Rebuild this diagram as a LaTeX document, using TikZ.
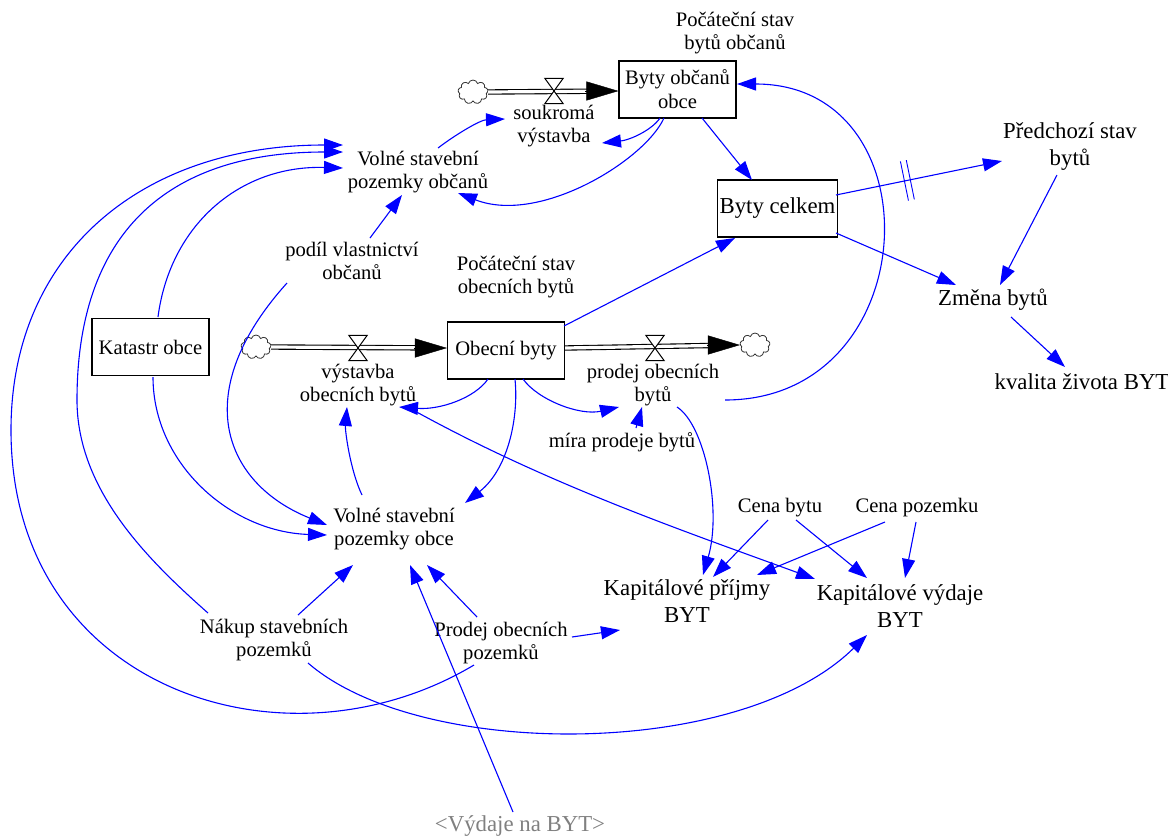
\documentclass[tikz,border=0pt]{standalone}
\usepackage{fontspec}
\setmainfont{Liberation Serif}
\usetikzlibrary{arrows.meta,calc,shapes.symbols,decorations.markings}
\definecolor{linkblue}{RGB}{0,0,255}
\definecolor{shadowgray}{RGB}{128,128,128}
\tikzset{
  lbl/.style={align=center, inner sep=2pt, font=\rmfamily\fontsize{20.6}{23}\selectfont},
  lblbig/.style={align=center, inner sep=2pt, font=\rmfamily\fontsize{22.8}{27}\selectfont},
  stock/.style={draw=black, line width=1.1pt, fill=white, minimum width=117pt, minimum height=57pt, align=center, inner sep=2pt, font=\rmfamily\fontsize{20.6}{24}\selectfont},
  link/.style={draw=linkblue, line width=1.1pt, -{Triangle[length=19pt,width=13pt]}},
  pipe/.style={draw=black, double=white, double distance=3.2pt, line width=1.1pt},
  flowhead/.style={draw=black, line width=0.4pt, -{Triangle[length=32pt,width=19pt]}},
  valvebox/.style={minimum width=18pt, minimum height=25pt, inner sep=0pt},
  valveshape/.style={draw=black, line width=1pt, fill=white},
  cloudnode/.style={cloud, draw=black!80, line width=0.8pt, cloud puffs=9, aspect=1.3, minimum width=30pt, minimum height=24pt, inner sep=0pt, fill=white},
  delaymark/.style={postaction={decorate, decoration={markings, mark=at position 0.43 with {\draw[-, draw=linkblue, line width=0.9pt] (-3pt,-20pt) -- (-3pt,20pt) (3pt,-20pt) -- (3pt,20pt);}}}}
}
\begin{document}
\begin{tikzpicture}[x=1pt,y=-1pt]
\useasboundingbox (0,0) rectangle (1168,839);
\fill[white] (0,0) rectangle (1168,839);

% nodes
\node[lbl] (psbo) at (735,33) {Počáteční stav\\bytů občanů};
\node[stock] (boo) at (677.5,89.5) {Byty občanů\\obce};
\node[lbl] (sv) at (554,126) {soukromá\\výstavba};
\node[lbl] (vspo) at (418,172) {Volné stavební\\pozemky občanů};
\node[stock, font=\rmfamily\fontsize{22.8}{27}\selectfont] (bc) at (777.5,208.5) {Byty celkem};
\node[lblbig] (pred) at (1070,147) {Předchozí stav\\bytů};
\node[lblbig] (zb) at (993,300) {Změna bytů};
\node[lblbig] (kz) at (1082,382) {kvalita života BYT};
\node[lbl] (pvo) at (352,261) {podíl vlastnictví\\občanů};
\node[lbl] (psob) at (516,277) {Počáteční stav\\obecních bytů};
\node[stock] (ko) at (150.5,347) {Katastr obce};
\node[stock] (ob) at (506,350.5) {Obecní byty};
\node[lbl] (vob) at (358,385) {výstavba\\obecních bytů};
\node[lbl] (pob) at (653,385) {prodej obecních\\bytů};
\node[lbl] (mpb) at (622,442) {míra prodeje bytů};
\node[lbl] (vspob) at (394,529) {Volné stavební\\pozemky obce};
\node[lbl] (cb) at (780,508) {Cena bytu};
\node[lbl] (cp) at (917,508) {Cena pozemku};
\node[lblbig] (kpb) at (687,601) {Kapitálové příjmy\\BYT};
\node[lblbig] (kvb) at (900,606) {Kapitálové výdaje\\BYT};
\node[lbl] (nsp) at (274,640) {Nákup stavebních\\pozemků};
\node[lbl] (pop) at (501,643) {Prodej obecních\\pozemků};
\node[lblbig, text=shadowgray] (vnb) at (520,826) {<Výdaje na BYT>};

% clouds and valves
\node[cloudnode] (c1) at (473,92) {};
\node[cloudnode] (c2) at (256,347) {};
\node[cloudnode] (c3) at (755,345) {};
\node[valvebox] (v1) at (554,91) {};
\node[valvebox] (v2) at (358,348) {};
\node[valvebox] (v3) at (655,348) {};

% flow pipes
\draw[pipe, shorten >=28pt] (c1.east) -- (boo.west |- v1);
\draw[flowhead] ($(boo.west |- v1)+(-33,0)$) -- (boo.west |- v1);
\draw[pipe, shorten >=28pt] (c2.east) -- (ob.west |- v2);
\draw[flowhead] ($(ob.west |- v2)+(-33,0)$) -- (ob.west |- v2);
\draw[pipe, shorten >=28pt] (ob.east |- v3) -- (c3.west);
\draw[flowhead] ($(c3.west)+(-33,0)$) -- (c3.west);
\foreach \v in {v1,v2,v3}{
  \draw[valveshape] (\v.north west) -- (\v.north east) -- (\v.south west) -- (\v.south east) -- cycle;
}

% top connectors
\draw[link] ($(vspo)+(20,-24)$) .. controls (455,135) and (480,120) .. ($(sv)+(-49,-7)$);
\draw[link] ($(boo)+(-17.5,28.5)$) .. controls (652,130) and (630,140) .. ($(sv)+(48,17)$);
\draw[link] ($(boo)+(-13.5,28.5)$) .. controls (645,160) and (540,225) .. ($(vspo)+(40,21)$);
\draw[link] ($(boo)+(24.5,28.5)$) -- ($(bc)+(-25.5,-28.5)$);
\draw[link, delaymark] ($(bc)+(58.5,-13.5)$) -- ($(pred)+(-68,14)$);
\draw[link] ($(bc)+(58.5,24.5)$) -- ($(zb)+(-37,-15)$);
\draw[link] ($(pred)+(-13,28)$) -- ($(zb)+(7,-15)$);
\draw[link] ($(zb)+(18,17)$) -- ($(kz)+(-17,-15)$);
\draw[link] ($(ob)+(58,-24.5)$) -- ($(bc)+(-42.5,29.5)$);
\draw[link] ($(pob)+(72,15)$) .. controls (926,400) and (938,84) .. ($(boo)+(59.5,-5.5)$);

% middle connectors
\draw[link] ($(ob)+(-18,28.5)$) .. controls (475,398) and (440,410) .. ($(vob)+(41,22)$);
\draw[link] ($(ob)+(17,28.5)$) .. controls (538,400) and (580,416) .. ($(pob)+(-34,22)$);
\draw[link] ($(mpb)+(14,-14)$) -- ($(pob)+(-11,22)$);
\draw[link] ($(ob)+(9,28.5)$) .. controls (519,420) and (507,470) .. ($(vspob)+(71,-26)$);
\draw[link] ($(vspob)+(-32,-34)$) .. controls (350,470) and (345,430) .. ($(vob)+(-11,22)$);
\draw[link] ($(vob)+(55,25)$) .. controls (547,484) and (681,530) .. ($(kvb)+(-85,-27)$);

% left connectors
\draw[link] ($(ko)+(7.5,-30)$) .. controls (170,225) and (240,165) .. ($(vspo)+(-75,-4)$);
\draw[link] ($(nsp)+(-66,-27)$) .. controls (148,560) and (77,490) .. (77,400) .. controls (77,235) and (165,152) .. ($(vspo)+(-75,-20)$);
\draw[link] ($(pop)+(-27,22)$) .. controls (285,778) and (11,690) .. (11,430) .. controls (11,255) and (140,145) .. ($(vspo)+(-75,-27)$);
\draw[link] ($(ko)+(2.5,30)$) .. controls (153,464) and (231,532) .. ($(vspob)+(-67,6)$);
\draw[link] ($(pvo)+(-65,22)$) .. controls (187,394) and (225,484) .. ($(vspob)+(-67,-4)$);
\draw[link] ($(pvo)+(18,-23)$) -- ($(vspo)+(-16,23)$);

% bottom connectors
\draw[link] ($(nsp)+(24,-25)$) -- ($(vspob)+(-41,36)$);
\draw[link] ($(nsp)+(34,23)$) .. controls (420,760) and (740,760) .. ($(kvb)+(-33,29)$);
\draw[link] ($(pop)+(-24,-26)$) -- ($(vspob)+(33,36)$);
\draw[link] ($(pop)+(71,-6)$) -- ($(kpb)+(-67,29)$);
\draw[link] ($(vnb)+(-7,-14)$) -- ($(vspob)+(16,36)$);
\draw[link] ($(cb)+(-12,12)$) -- ($(kpb)+(26,-24)$);
\draw[link] ($(cb)+(16,12)$) -- ($(kvb)+(-33,-28)$);
\draw[link] ($(cp)+(-32,14)$) -- ($(kpb)+(70,-26)$);
\draw[link] ($(cp)+(-1,14)$) -- ($(kvb)+(5,-28)$);
\draw[link] ($(pob)+(24,22)$) .. controls (705,425) and (722,510) .. ($(kpb)+(16,-26)$);
\end{tikzpicture}
\end{document}
